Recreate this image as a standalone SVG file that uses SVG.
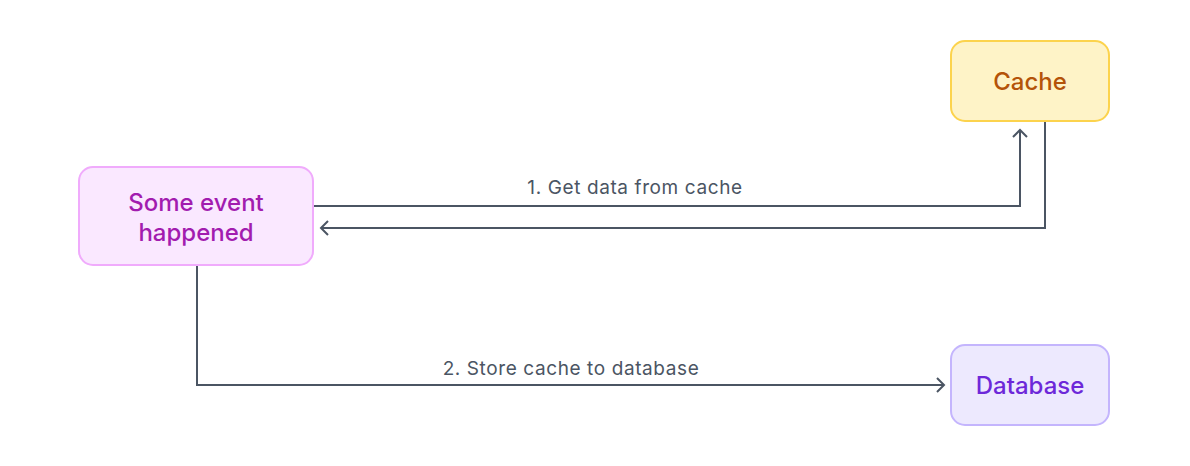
<svg xmlns="http://www.w3.org/2000/svg" width="1190" height="466" viewBox="0 0 1190 466">
<style>
.conn{fill:none;stroke:#4b5563;stroke-width:2}
.lbl{font-family:Inter,"Liberation Sans",sans-serif;font-size:19px;letter-spacing:0.6px;fill:#4b5563;text-anchor:middle}
.nt{font-family:Inter,"Liberation Sans",sans-serif;font-size:24px;font-weight:500;text-anchor:middle}
</style>
<defs>
<marker id="ah" viewBox="0 0 16 16" refX="10" refY="8" markerWidth="16" markerHeight="16" markerUnits="userSpaceOnUse" orient="auto">
<path d="M3,1 L10,8 L3,15" fill="none" stroke="#4b5563" stroke-width="2"/>
</marker>
</defs>
<rect width="1190" height="466" fill="#ffffff"/>
<g id="connectors">
<path class="conn" d="M313,206 H1020 V130" marker-end="url(#ah)"/>
<path class="conn" d="M1045,121 V228 H321" marker-end="url(#ah)"/>
<path class="conn" d="M197,265 V385 H944" marker-end="url(#ah)"/>
<text class="lbl" x="635" y="194">1. Get data from cache</text>
<text class="lbl" x="571" y="375">2. Store cache to database</text>
</g>
<g id="cache">
<rect x="951" y="41" width="158" height="80" rx="14" fill="#fef3c7" stroke="#fcd34d" stroke-width="2"/>
<text class="nt" x="1030" y="89.5" fill="#b45309">Cache</text>
</g>
<g id="event">
<rect x="79" y="167" width="234" height="98" rx="14" fill="#fae8ff" stroke="#f0abfc" stroke-width="2"/>
<text class="nt" x="196" y="210.5" fill="#a21caf">Some event</text>
<text class="nt" x="196" y="240.5" fill="#a21caf">happened</text>
</g>
<g id="database">
<rect x="951" y="345" width="158" height="80" rx="14" fill="#ede9fe" stroke="#c4b5fd" stroke-width="2"/>
<text class="nt" x="1030" y="393.5" fill="#6d28d9">Database</text>
</g>
</svg>
